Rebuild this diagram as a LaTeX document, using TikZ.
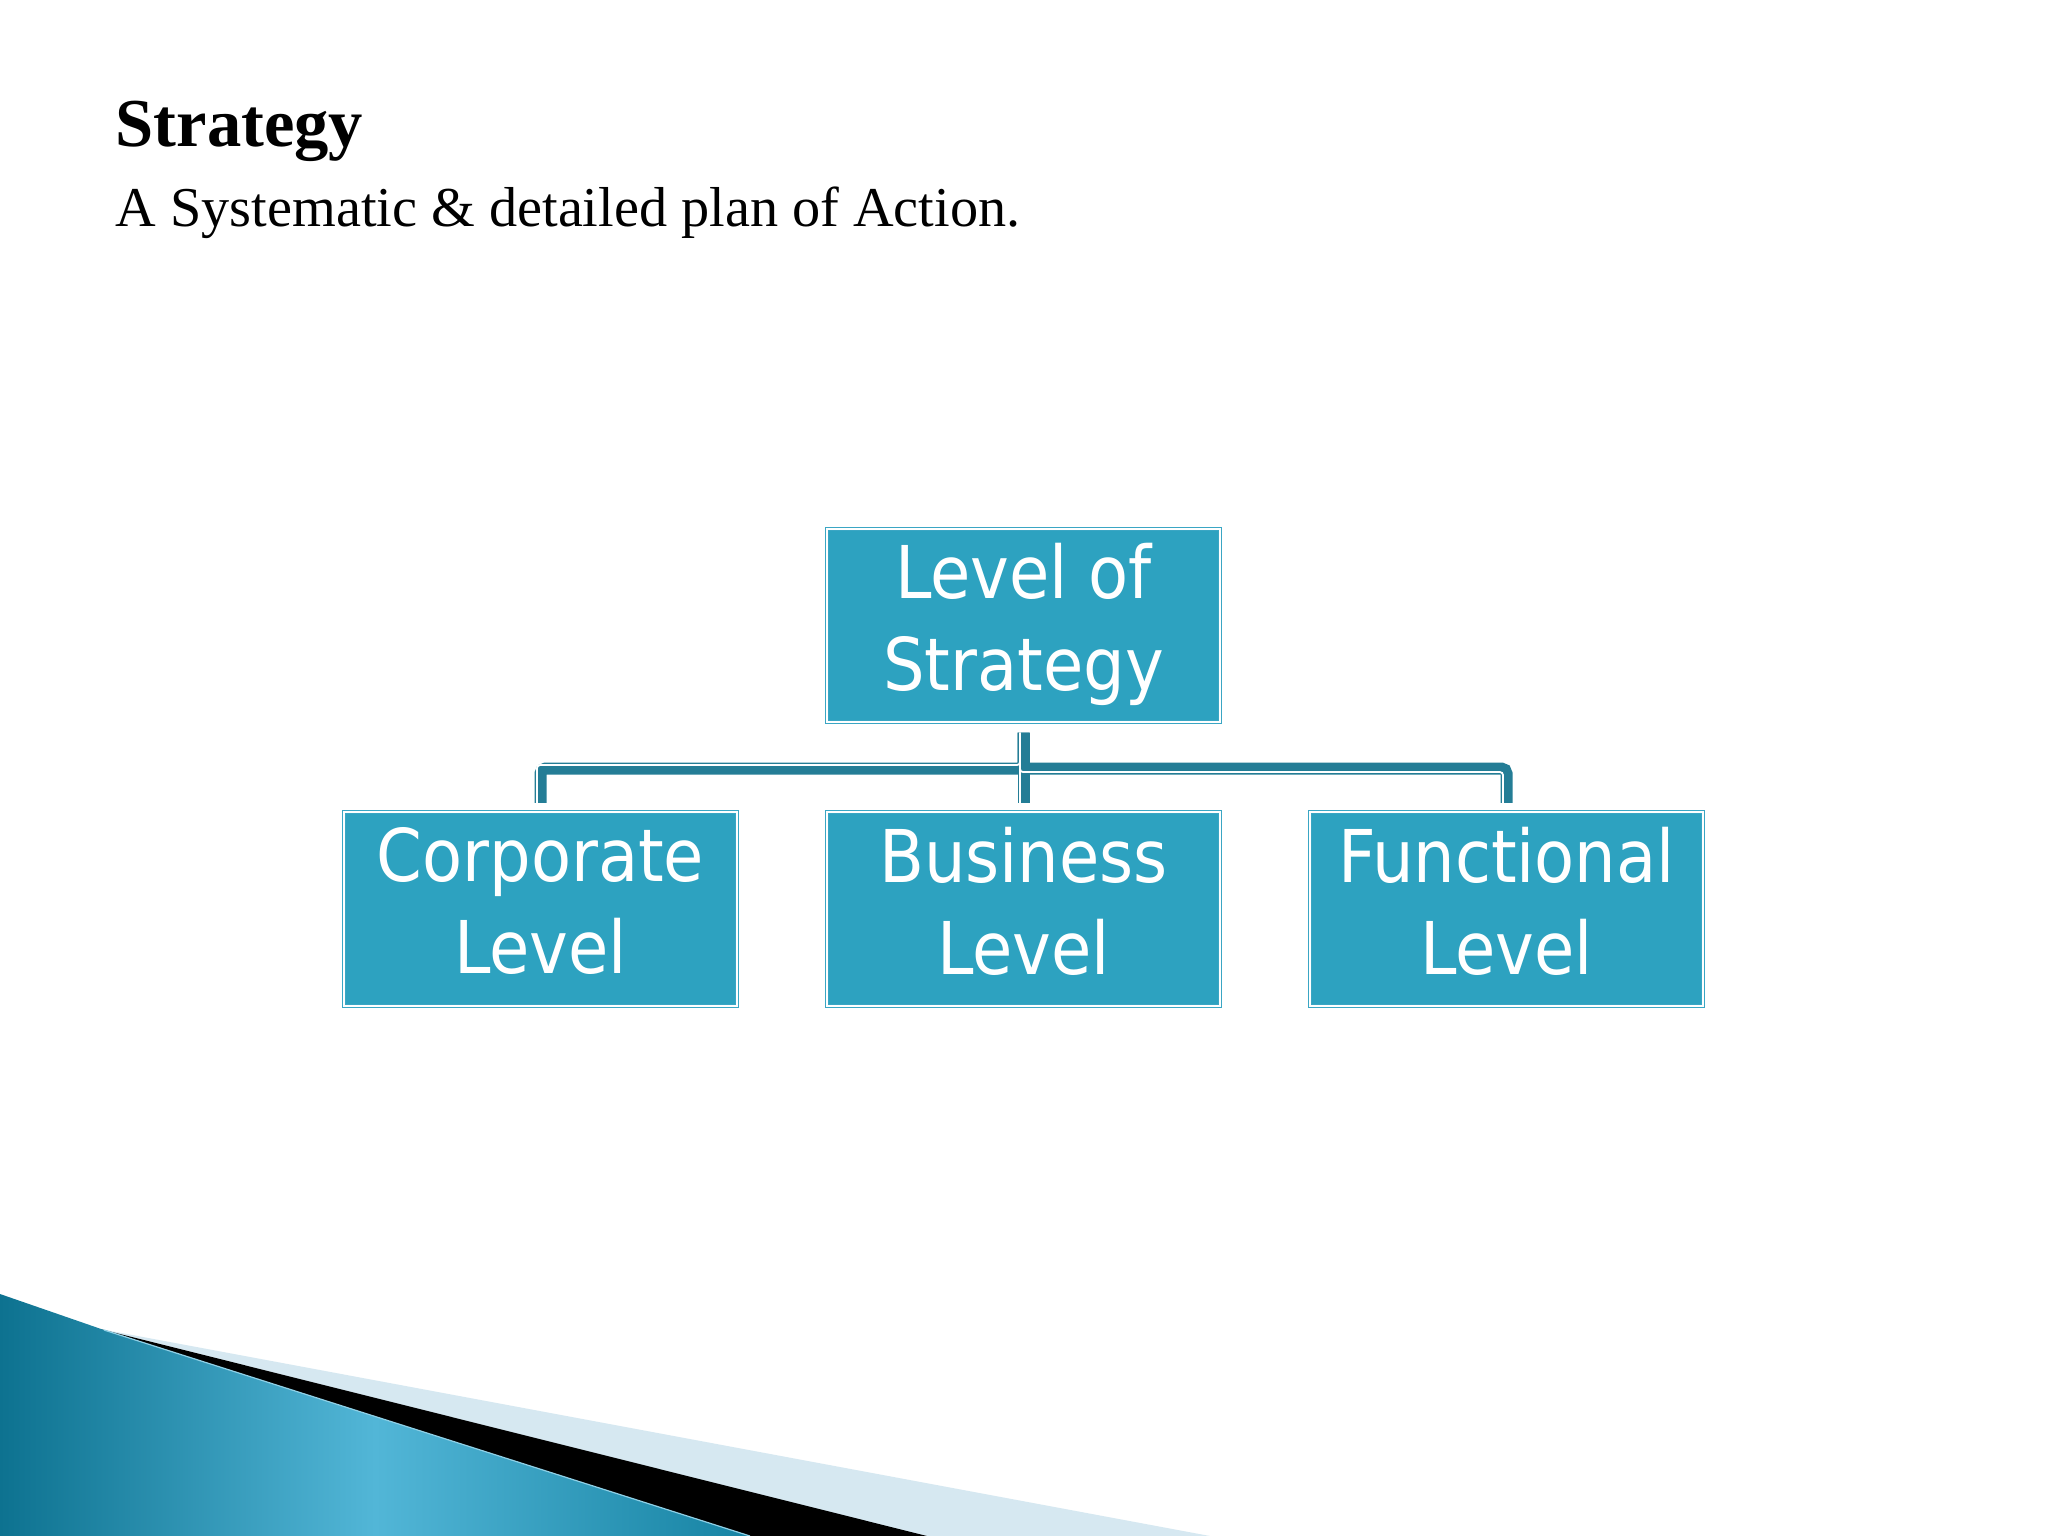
\documentclass[tikz,border=0pt]{standalone}
\usepackage{fontspec}
\newfontfamily\serifT{Liberation Serif}
\newfontfamily\boxfont{DejaVu Sans Condensed}
\usetikzlibrary{calc}
\definecolor{boxfill}{HTML}{2DA2C0}
\definecolor{boxline}{HTML}{3AA6C4}
\definecolor{connc}{HTML}{247D96}
\definecolor{tealA}{HTML}{0D7290}
\definecolor{tealB}{HTML}{52B6D7}
\definecolor{tealC}{HTML}{1683A3}
\definecolor{lightband}{HTML}{D6E8F1}
\definecolor{edgeline}{HTML}{8FD0E6}
\begin{document}
\begin{tikzpicture}[x=0.01cm,y=-0.01cm,
  lvl/.style={draw=boxline, double=white, double distance=0.02cm, line width=0.01cm,
    fill=boxfill, minimum width=3.93cm, minimum height=1.93cm, inner sep=0pt,
    align=center, text=white, font=\boxfont\fontsize{20.7pt}{26.2pt}\selectfont,
    text depth=0.17cm},
  conn/.style={draw=connc, line width=0.12cm, rounded corners=0.05cm},
  connhi/.style={draw=white, line width=0.018cm, rounded corners=0.03cm},
  titletext/.style={anchor=base west, inner sep=0pt, text=black}]
\useasboundingbox (0,0) rectangle (2048,1536);
\fill[white] (0,0) rectangle (2048,1536);

% bottom-left decoration
\fill[lightband] (100,1329) -- (1210,1536) -- (925,1536) -- cycle;
\fill[black] (100,1329) -- (927,1536) -- (748,1536) -- cycle;
\shade[left color=tealA, right color=tealC, middle color=tealB]
  (0,1294) -- (104,1330) -- (750,1536) -- (0,1536) -- cycle;
\draw[edgeline, line width=0.012cm] (104,1330) -- (750,1536);

% titles
\node[titletext, font=\serifT\bfseries\fontsize{19.5pt}{23pt}\selectfont] (title) at (115,146) {Strategy};
\node[titletext, font=\serifT\fontsize{16pt}{19pt}\selectfont] (sub) at (115,226) {A Systematic \& detailed plan of Action.};

% boxes
\node[lvl] (top) at (1023.5,625.5) {Level of\\Strategy};
\node[lvl] (corp) at (540.5,909) {Corporate\\Level};
\node[lvl] (bus) at (1023.5,909) {Business\\Level};
\node[lvl] (func) at (1506.5,909) {Functional\\Level};

% connectors (dark)
\draw[conn] ($(top.south)+(0,10)$) -- ($(top.south)+(0,46)$) -| ($(corp.north)+(0,-9)$);
\draw[conn] ($(top.south)+(0,10)$) -- ($(top.south)+(0,46)$) -| ($(func.north)+(0,-9)$);
\draw[conn] ($(top.south)+(0,10)$) -- ($(bus.north)+(0,-9)$);
% connectors (highlight)
\draw[connhi] ($(top.south)+(-3.5,10)$) -- ($(top.south)+(-3.5,42.5)$) -| ($(corp.north)+(-3.5,-9)$);
\draw[connhi] ($(top.south)+(-3.5,10)$) -- ($(top.south)+(-3.5,49.5)$) -| ($(func.north)+(-3.5,-9)$);
\draw[connhi] ($(top.south)+(-3.5,10)$) -- ($(bus.north)+(-3.5,-9)$);
\end{tikzpicture}
\end{document}
